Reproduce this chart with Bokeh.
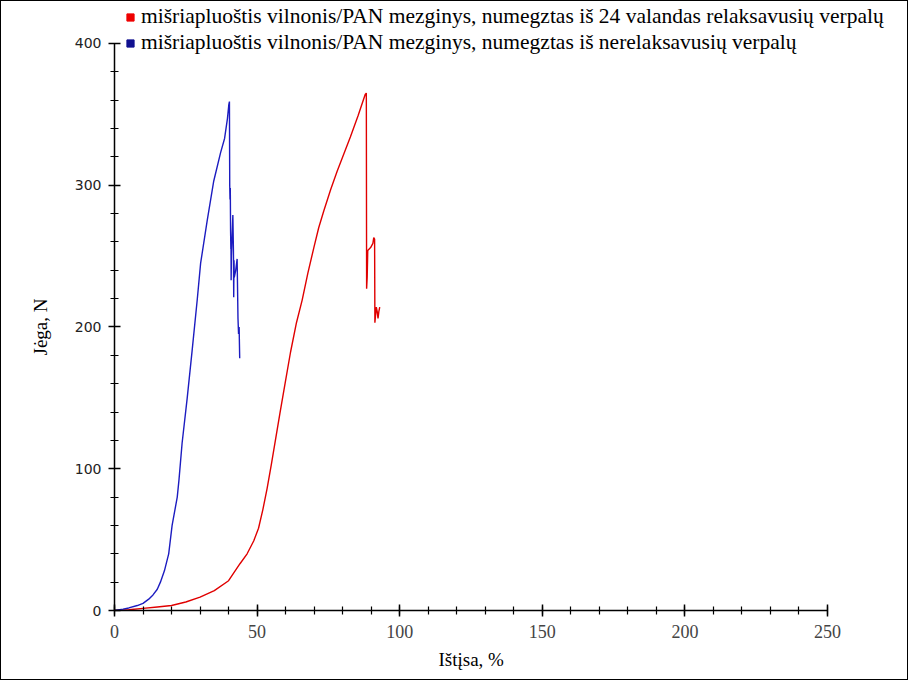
from bokeh.plotting import figure
from bokeh.models import Legend, LegendItem, ColumnDataSource, Range1d, FixedTicker, Title
from bokeh.embed import file_html
from bokeh.resources import INLINE

# ---- data ----
red_x = [0, 5, 10, 15, 20, 25, 30, 35, 40, 44, 46.5, 48.8, 50.5, 52.0, 53.5, 55.0, 56.5,
         58.0, 59.8, 61.7, 63.8, 65.8, 67.8, 69.9, 71.6, 73.4, 75.8, 78.1, 80.4, 82.7,
         85.4, 87.9, 88.3, 88.4, 88.6, 88.8, 89.8, 90.6, 90.9, 91.2, 91.3, 91.8, 92.1,
         92.4, 92.7, 93.0]
red_y = [0, 0.5, 1.5, 2.5, 3.5, 6, 9.4, 14, 21, 33, 40, 49, 58, 71, 86, 103, 121,
         139, 160, 182, 203, 219, 238, 256, 270, 282, 297, 310, 322, 334,
         349, 364, 365, 227, 235, 254, 256, 259, 263, 262, 203, 214, 211,
         206, 211, 214]

blue_x = [0, 3, 5, 8, 10, 12, 13.5, 15, 16.1, 17.5, 19.0, 20.2, 22.0, 22.6, 23.7, 25.5,
          27.2, 29.0, 30.2, 32.5, 34.8, 37.2, 38.6, 39.6, 40.1, 40.3, 40.4, 40.5, 40.6,
          40.7, 40.8, 40.85, 40.9, 41.0, 41.5, 41.7, 41.8, 41.9, 42.0, 42.5, 43.0, 43.3,
          43.5, 43.7, 43.9]
blue_y = [0, 1, 1.8, 3.5, 5, 8, 11, 15, 20, 28, 40, 60, 80, 92, 118, 150,
          183, 219, 245, 275, 303, 323, 333, 347, 357, 359, 300, 290, 298,
          268, 255, 262, 233, 250, 279, 254, 221, 247, 235, 240, 248, 206,
          195, 200, 178]

legend_labels = [
    "mišriapluoštis vilnonis/PAN mezginys, numegztas iš 24 valandas relaksavusių verpalų",
    "mišriapluoštis vilnonis/PAN mezginys, numegztas iš nerelaksavusių verpalų",
]
x_ticks = [0, 50, 100, 150, 200, 250]
x_minor = list(range(0, 251, 10))
y_ticks = [0, 100, 200, 300, 400]
y_minor = list(range(0, 401, 20))
x_title = "Ištįsa, %"
y_title = "Jėga, N"

RED = "#e00000"
BLUE = "#1c1cc0"

# The frame is widened/raised so the legend (which sits above and to the right of the
# axes) is not clipped; the axes themselves are bounded to 0..250 and 0..400.
p = figure(width=908, height=680, output_backend="svg", toolbar_location=None,
           x_range=Range1d(0, 277.35), y_range=Range1d(0, 429.6),
           min_border_left=113, min_border_right=4, min_border_top=0,
           min_border_bottom=71)
p.styles = {"border": "1px solid black"}
p.background_fill_color = "white"
p.border_fill_color = "white"
p.outline_line_color = None
p.xgrid.visible = False
p.ygrid.visible = False

p.line(red_x, red_y, line_color=RED, line_width=1.4)
p.line(blue_x, blue_y, line_color=BLUE, line_width=1.4)

# legend proxies (NaN point: nothing drawn on the plot, square drawn in the legend)
nan = float("nan")
src_proxy = ColumnDataSource(dict(x=[nan], y=[nan]))
r_leg = p.scatter("x", "y", source=src_proxy, marker="square", size=7,
                  fill_color="#ee0000", line_color="#ee0000")
b_leg = p.scatter("x", "y", source=src_proxy, marker="square", size=7,
                  fill_color="#101090", line_color="#101090")
legend = Legend(items=[LegendItem(label=legend_labels[0], renderers=[r_leg], index=0),
                       LegendItem(label=legend_labels[1], renderers=[b_leg], index=0)],
                location=(7, 555), border_line_color=None,
                background_fill_alpha=0, padding=0, margin=0, spacing=1,
                glyph_width=18, glyph_height=20, label_height=20,
                label_standoff=2, label_text_font="Liberation Serif",
                label_text_font_size="21.5px", label_text_color="black")
p.add_layout(legend)

for ax in (p.xaxis[0], p.yaxis[0]):
    ax.axis_line_color = "black"
    ax.axis_line_width = 1.5
    ax.major_tick_line_color = "black"
    ax.minor_tick_line_color = "black"
    ax.major_tick_line_width = 1.5
    ax.minor_tick_line_width = 1.2
    ax.major_tick_in = 6
    ax.major_tick_out = 6
    ax.minor_tick_in = 4
    ax.minor_tick_out = 4

p.xaxis.ticker = FixedTicker(ticks=x_ticks, minor_ticks=x_minor)
p.yaxis.ticker = FixedTicker(ticks=y_ticks, minor_ticks=y_minor)
p.xaxis.bounds = (0, 250)
p.yaxis.bounds = (0, 400)
p.xaxis.major_label_text_font = "Liberation Serif"
p.xaxis.major_label_text_font_size = "18px"
p.xaxis.major_label_standoff = 8
p.yaxis.major_label_text_font = "DejaVu Sans"
p.yaxis.major_label_text_font_size = "14px"
p.yaxis.major_label_text_color = "#222222"
p.yaxis.major_label_standoff = 7

# axis titles, centred on the bounded axes (not on the widened frame)
xt = Title(text=x_title, align="left", offset=324, vertical_align="middle",
           standoff=14, text_font="Liberation Serif", text_font_size="19px",
           text_font_style="normal", text_color="black")
p.add_layout(xt, "below")
yt = Title(text=y_title, align="left", offset=255, vertical_align="middle",
           standoff=40, text_font="Liberation Serif", text_font_size="19px",
           text_font_style="normal", text_color="black")
p.add_layout(yt, "left")

open("out.html", "w").write(file_html(p, INLINE))
